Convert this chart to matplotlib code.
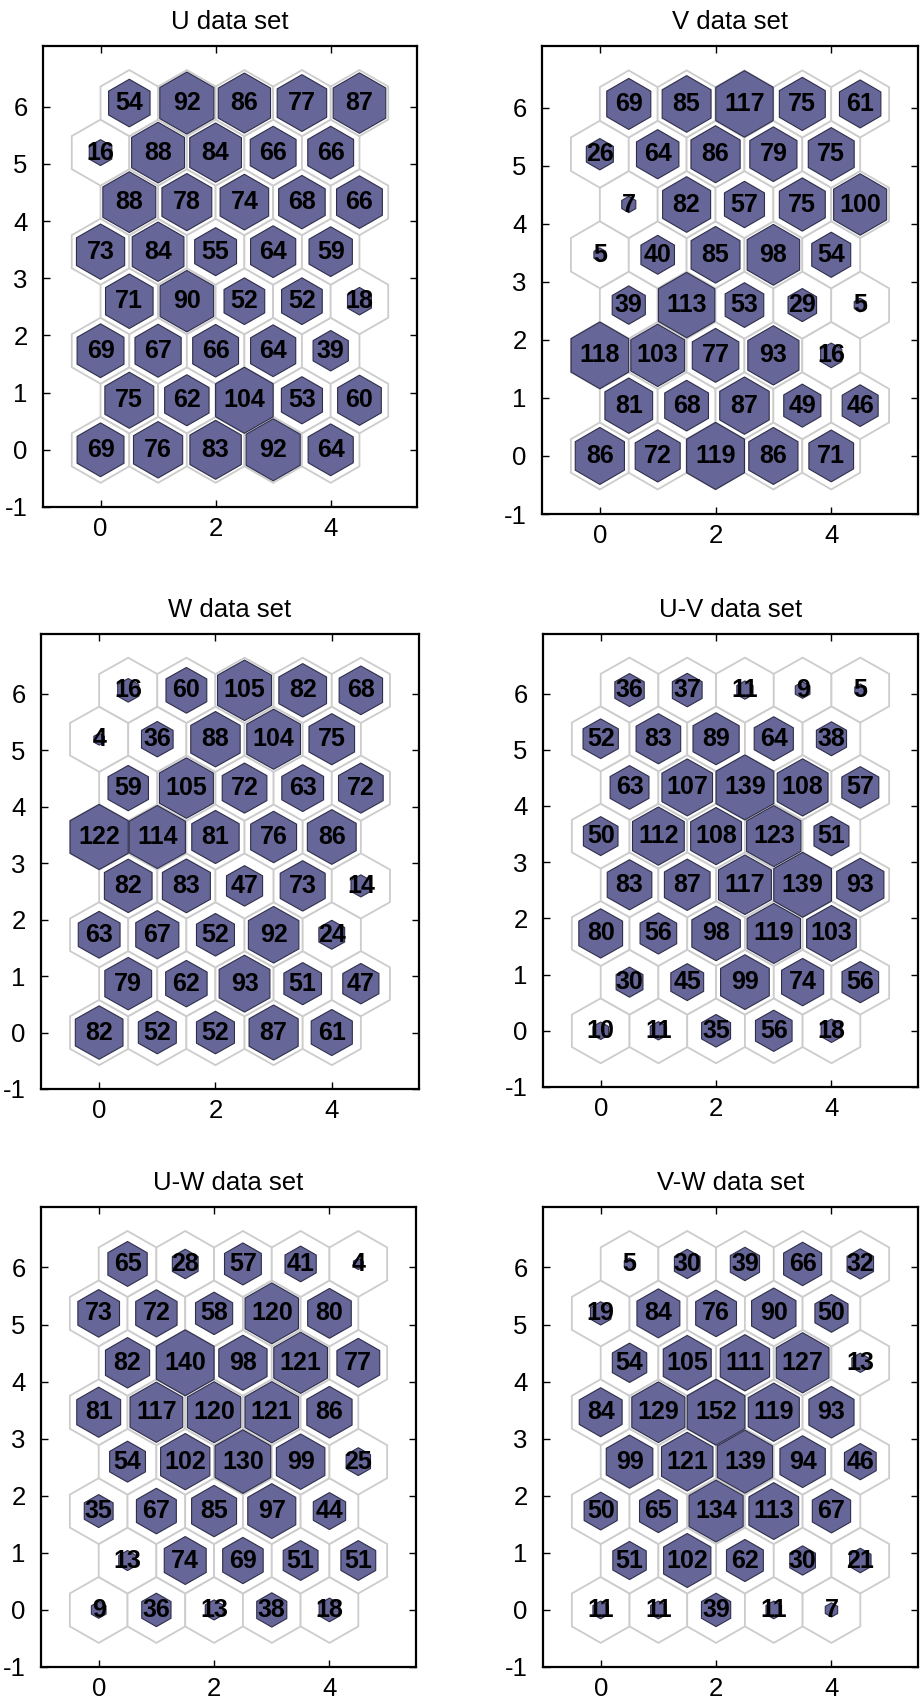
import numpy as np
import matplotlib.pyplot as plt
from matplotlib.patches import Polygon

plt.rcParams['font.family'] = ['Liberation Sans', 'DejaVu Sans']
plt.rcParams['axes.unicode_minus'] = False

# hit counts per neuron, 8 rows x 5 columns, bottom row first
titles = ['U data set', 'V data set', 'W data set',
          'U-V data set', 'U-W data set', 'V-W data set']

hits_u = [[69, 76, 83, 92, 64],
          [75, 62, 104, 53, 60],
          [69, 67, 66, 64, 39],
          [71, 90, 52, 52, 18],
          [73, 84, 55, 64, 59],
          [88, 78, 74, 68, 66],
          [16, 88, 84, 66, 66],
          [54, 92, 86, 77, 87]]

hits_v = [[86, 72, 119, 86, 71],
          [81, 68, 87, 49, 46],
          [118, 103, 77, 93, 16],
          [39, 113, 53, 29, 5],
          [5, 40, 85, 98, 54],
          [7, 82, 57, 75, 100],
          [26, 64, 86, 79, 75],
          [69, 85, 117, 75, 61]]

hits_w = [[82, 52, 52, 87, 61],
          [79, 62, 93, 51, 47],
          [63, 67, 52, 92, 24],
          [82, 83, 47, 73, 14],
          [122, 114, 81, 76, 86],
          [59, 105, 72, 63, 72],
          [4, 36, 88, 104, 75],
          [16, 60, 105, 82, 68]]

hits_uv = [[10, 11, 35, 56, 18],
           [30, 45, 99, 74, 56],
           [80, 56, 98, 119, 103],
           [83, 87, 117, 139, 93],
           [50, 112, 108, 123, 51],
           [63, 107, 139, 108, 57],
           [52, 83, 89, 64, 38],
           [36, 37, 11, 9, 5]]

hits_uw = [[9, 36, 13, 38, 18],
           [13, 74, 69, 51, 51],
           [35, 67, 85, 97, 44],
           [54, 102, 130, 99, 25],
           [81, 117, 120, 121, 86],
           [82, 140, 98, 121, 77],
           [73, 72, 58, 120, 80],
           [65, 28, 57, 41, 4]]

hits_vw = [[11, 11, 39, 11, 7],
           [51, 102, 62, 30, 21],
           [50, 65, 134, 113, 67],
           [99, 121, 139, 94, 46],
           [84, 129, 152, 119, 93],
           [54, 105, 111, 127, 13],
           [19, 84, 76, 90, 50],
           [5, 30, 39, 66, 32]]

all_hits = [hits_u, hits_v, hits_w, hits_uv, hits_uw, hits_vw]

W, H = 922, 1702
# axes boxes in pixels: left, top, right, bottom
boxes = [(43, 46, 417, 507), (542, 46, 918, 514),
         (41, 634, 419, 1089), (543, 634, 918, 1087),
         (41, 1207, 416, 1667), (543, 1207, 918, 1667)]

ang = np.deg2rad(np.arange(90, 450, 60))
hx = np.cos(ang) / np.sqrt(3)
hy = np.sin(ang) / np.sqrt(3)

fig = plt.figure(figsize=(W / 100, H / 100), dpi=100)

for title, hits, (l, t, r, b) in zip(titles, all_hits, boxes):
    ax = fig.add_axes([l / W, 1 - b / H, (r - l) / W, (b - t) / H])
    hits = np.array(hits, dtype=float)
    hmax = hits.max()
    nrows, ncols = hits.shape
    for i in range(nrows):
        for j in range(ncols):
            cx = j + 0.5 * (i % 2)
            cy = i * np.sqrt(3) / 2
            ax.add_patch(Polygon(np.c_[cx + hx, cy + hy], closed=True,
                                 facecolor='white', edgecolor='#cccccc',
                                 linewidth=1.3, zorder=1))
    for i in range(nrows):
        for j in range(ncols):
            cx = j + 0.5 * (i % 2)
            cy = i * np.sqrt(3) / 2
            s = np.sqrt(hits[i, j] / hmax)
            ax.add_patch(Polygon(np.c_[cx + s * hx, cy + s * hy], closed=True,
                                 facecolor='#666699', edgecolor='#2e2e4a',
                                 linewidth=0.8, zorder=2))
            ax.text(cx, cy, '%d' % hits[i, j], ha='center', va='center',
                    fontsize=18, fontweight='bold', zorder=3)
    ax.set_xlim(-1, 5.5)
    ax.set_ylim(-1, 7.06)
    ax.set_xticks([0, 2, 4])
    ax.set_yticks(range(-1, 7))
    ax.tick_params(direction='in', top=True, right=True, length=5,
                   width=1, labelsize=18.5)
    ax.tick_params(axis='y', pad=11)
    ax.tick_params(axis='x', pad=7)
    for sp in ax.spines.values():
        sp.set_linewidth(1.6)
    ax.set_title(title, fontsize=18.5, pad=12)

fig.savefig('out.png', dpi=100)
